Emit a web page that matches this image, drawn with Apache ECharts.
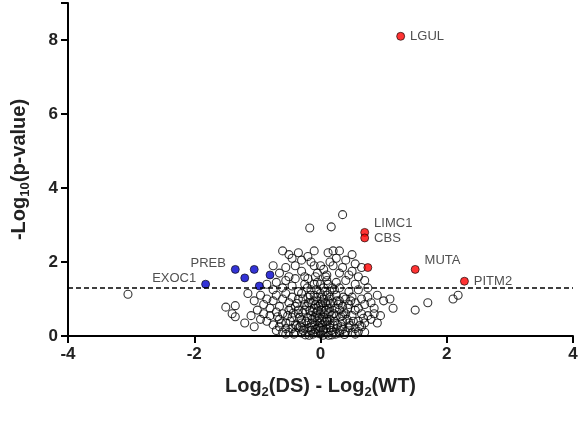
<!DOCTYPE html><html><head><meta charset="utf-8"><script src="https://cdn.jsdelivr.net/npm/echarts@6/dist/echarts.min.js"></script></head><body style="margin:0"><div id="c" style="width:582px;height:426px"></div><script>
const xTicks=[-4,-2,0,2,4];
const yTicks=[0,2,4,6,8];
const threshold=1.3;
const upGenes=[["LGUL",1.27,8.1],["LIMC1",0.7,2.8],["CBS",0.7,2.65],["",0.75,1.85],["MUTA",1.5,1.8],["PITM2",2.28,1.48]];
const downGenes=[["EXOC1",-1.82,1.4],["PREB",-1.35,1.8],["",-1.2,1.57],["",-1.05,1.8],["",-0.97,1.35],["",-0.8,1.65]];
const others=[[-3.05,1.13],[-1.5,0.78],[-1.35,0.82],[-1.4,0.6],[-1.35,0.52],[-0.17,2.92],[0.17,2.95],[0.35,3.28],
[2.1,1.0],[2.18,1.1],[1.7,0.9],[1.5,0.7],[0.9,1.1],[1.0,0.95],[1.15,0.75],[1.1,1.0],[0.95,0.55],[0.85,0.75],
[-0.6,2.3],[-0.5,2.2],[-0.45,2.1],[-0.35,2.25],[-0.3,2.05],[-0.2,2.15],[-0.1,2.3],[0.12,2.25],[0.2,2.3],[0.25,2.1],[0.3,2.3],[0.4,2.05],[0.5,2.2],[0.55,1.95],
[-0.75,1.9],[-0.65,1.7],[-0.55,1.85],[-0.5,1.6],[-0.4,1.9],[-0.3,1.75],[-0.25,1.6],[-0.1,1.9],[-0.05,1.7],[0.05,1.8],[0.1,1.65],[0.2,1.9],[0.3,1.7],[0.35,1.85],[0.45,1.65],[0.5,1.75],[0.6,1.6],[0.65,1.85],
[-0.85,1.4],[-0.75,1.25],[-0.7,1.45],[-0.6,1.3],[-0.55,1.5],[-0.45,1.35],[-0.4,1.55],[-0.35,1.2],[-0.25,1.4],[-0.2,1.55],[-0.15,1.25],[-0.05,1.45],[0.05,1.3],[0.1,1.5],[0.15,1.2],[0.25,1.45],[0.3,1.3],[0.4,1.5],[0.45,1.2],[0.55,1.4],[0.6,1.25],[0.7,1.5],[0.75,1.3],
[-1.15,1.15],[-1.05,0.95],[-0.95,1.1],[-0.9,0.85],[-0.85,1.0],[-0.8,0.75],[-0.75,0.95],[-0.7,1.1],[-0.65,0.8],[-0.6,1.0],[-0.55,1.15],[-0.5,0.9],[-0.45,1.05],[-0.4,0.8],[-0.35,1.0],[-0.3,1.15],[-0.25,0.85],[-0.2,1.05],[-0.15,0.9],[-0.1,1.1],[-0.05,0.95],[0.0,1.15],[0.05,1.0],[0.1,0.85],[0.15,1.05],[0.2,0.9],[0.25,1.1],[0.3,0.95],[0.35,0.8],[0.4,1.0],[0.45,0.85],[0.5,1.05],[0.55,0.9],[0.6,0.75],[0.65,1.0],[0.7,0.85],[0.75,1.05],[0.8,0.9],
[-1.1,0.55],[-1.0,0.7],[-0.95,0.45],[-0.9,0.6],[-0.85,0.4],[-0.8,0.55],[-0.75,0.3],[-0.7,0.65],[-0.65,0.45],[-0.6,0.6],[-0.55,0.35],[-0.5,0.7],[-0.45,0.5],[-0.4,0.3],[-0.35,0.6],[-0.3,0.45],[-0.25,0.7],[-0.2,0.35],[-0.15,0.55],[-0.1,0.75],[-0.05,0.4],[0.0,0.6],[0.05,0.75],[0.1,0.45],[0.15,0.65],[0.2,0.3],[0.25,0.55],[0.3,0.7],[0.35,0.4],[0.4,0.6],[0.45,0.35],[0.5,0.55],[0.55,0.7],[0.6,0.4],[0.65,0.6],[0.7,0.35],[0.75,0.55],[0.8,0.45],[0.85,0.6],[0.9,0.35],[-1.2,0.35],[-1.05,0.25],
[-0.7,0.15],[-0.65,0.25],[-0.6,0.1],[-0.55,0.2],[-0.5,0.1],[-0.45,0.2],[-0.4,0.1],[-0.35,0.22],[-0.3,0.08],[-0.25,0.2],[-0.2,0.12],[-0.15,0.25],[-0.1,0.1],[-0.05,0.2],[0.0,0.05],[0.05,0.18],[0.1,0.08],[0.15,0.22],[0.2,0.1],[0.25,0.2],[0.3,0.08],[0.35,0.18],[0.4,0.12],[0.45,0.22],[0.5,0.1],[0.55,0.2],[0.6,0.12],[0.65,0.25],[0.7,0.1],
[-0.3,0.35],[-0.2,0.5],[-0.1,0.3],[-0.05,0.55],[0.0,0.35],[0.05,0.5],[0.1,0.3],[0.15,0.45],[-0.12,0.65],[0.12,0.6],[-0.08,0.85],[0.08,0.9],[0.0,0.85],[-0.02,0.25],[0.02,0.45],[-0.18,0.02],[0.18,0.03],[0.0,1.4],[-0.08,1.6],[0.08,1.6],[0.0,1.9],[-0.15,2.0],[0.15,2.0]];
const corePoints=[[-0.42,0.05],[-0.38,0.28],[-0.33,0.5],[-0.28,0.62],[-0.27,0.15],[-0.23,0.4],[-0.22,0.8],[-0.18,0.22],[-0.17,0.68],[-0.13,0.45],[-0.12,0.05],[-0.11,0.95],[-0.08,0.18],[-0.07,0.62],[-0.06,1.25],[-0.04,0.08],[-0.03,0.8],[-0.01,0.15],[0.01,0.7],[0.02,1.05],[0.03,0.3],[0.04,0.02],[0.06,0.6],[0.07,1.2],[0.09,0.2],[0.11,0.4],[0.12,0.95],[0.13,0.02],[0.14,0.75],[0.17,0.15],[0.18,0.55],[0.19,1.3],[0.22,0.4],[0.23,0.75],[0.24,0.05],[0.27,0.3],[0.28,0.85],[0.32,0.52],[0.33,0.25],[0.37,0.65],[0.38,0.04],[0.42,0.45],[0.43,0.75],[0.47,0.28],[0.48,0.95],[0.52,0.4],[-0.48,0.4],[-0.47,0.75],[-0.52,0.55],[-0.43,0.62],[-0.37,0.88],[-0.32,0.25],[-0.28,1.0],[-0.16,1.1],[-0.14,0.35],[-0.09,0.5],[-0.02,0.5],[0.03,0.9],[0.09,0.7],[0.16,0.88],[0.21,0.6],[0.26,0.95],[0.31,0.15],[0.36,1.05],[-0.24,0.03],[-0.19,0.9],[-0.06,1.05],[0.0,0.22],[0.07,0.38],[0.1,1.1],[-0.04,0.68],[0.04,0.15],[-0.15,0.15],[0.15,0.3],[-0.35,0.7],[0.35,0.55],[-0.55,0.05],[0.55,0.05],[-0.62,0.35],[0.62,0.28],[-0.68,0.52],[0.68,0.48],[-0.21,1.3],[0.22,1.25],[-0.1,1.4],[0.12,1.4]];
const chart=echarts.init(document.getElementById('c'));
const lbl=(pos)=>({show:true,formatter:p=>p.data[2]||'',position:pos,color:'#222',fontSize:13,fontFamily:'Liberation Sans'});
chart.setOption({
 grid:{left:68,right:9,top:3,bottom:90},
 xAxis:{type:'value',min:-4,max:4,interval:2,
  name:'{b|Log}{s|2}{b|(DS) - Log}{s|2}{b|(WT)}',nameLocation:'middle',nameGap:38,
  nameTextStyle:{rich:{b:{fontSize:20,fontWeight:'bold',fontFamily:'Liberation Sans',color:'#222'},s:{fontSize:13,fontWeight:'bold',fontFamily:'Liberation Sans',color:'#222',verticalAlign:'bottom',padding:[12,0,0,0]}}},
  axisLine:{onZero:false,lineStyle:{color:'#000',width:2}},axisTick:{length:7,lineStyle:{width:2,color:'#000'}},splitLine:{show:false},
  axisLabel:{fontSize:17,fontWeight:'bold',color:'#222',fontFamily:'Liberation Sans',margin:10}},
 yAxis:{type:'value',min:0,max:9,interval:2,
  name:'{b|-Log}{s|10}{b|(p-value)}',nameLocation:'middle',nameGap:36,nameRotate:90,
  nameTextStyle:{rich:{b:{fontSize:20,fontWeight:'bold',fontFamily:'Liberation Sans',color:'#222'},s:{fontSize:13,fontWeight:'bold',fontFamily:'Liberation Sans',color:'#222',padding:[12,0,0,0]}}},
  axisLine:{show:true,onZero:false,lineStyle:{color:'#000',width:2}},axisTick:{show:true,length:7,lineStyle:{width:2,color:'#000'}},splitLine:{show:false},
  axisLabel:{fontSize:17,fontWeight:'bold',color:'#222',fontFamily:'Liberation Sans',margin:10,formatter:v=>v%2===0?v:''}},
 series:[
  {type:'scatter',data:others.concat(corePoints),symbolSize:8,itemStyle:{color:'rgba(255,255,255,0.05)',borderColor:'#000',borderWidth:1.1},
   markLine:{silent:true,symbol:'none',label:{show:false},lineStyle:{type:[5,3],color:'#000',width:1.5},data:[{yAxis:threshold}]}},
  {type:'scatter',data:upGenes.map(g=>[g[1],g[2],g[0]]),symbolSize:8,itemStyle:{color:'#ff0000',borderColor:'#000',borderWidth:0.8},label:lbl('right'),labelLayout:p=>({dy:p.dataIndex==1||p.dataIndex==4?-9:0,dx:0})},
  {type:'scatter',data:downGenes.map(g=>[g[1],g[2],g[0]]),symbolSize:8,itemStyle:{color:'#0000cc',borderColor:'#000',borderWidth:0.8},label:lbl('left'),labelLayout:p=>({dy:-6})}
 ]});
</script></body></html>
